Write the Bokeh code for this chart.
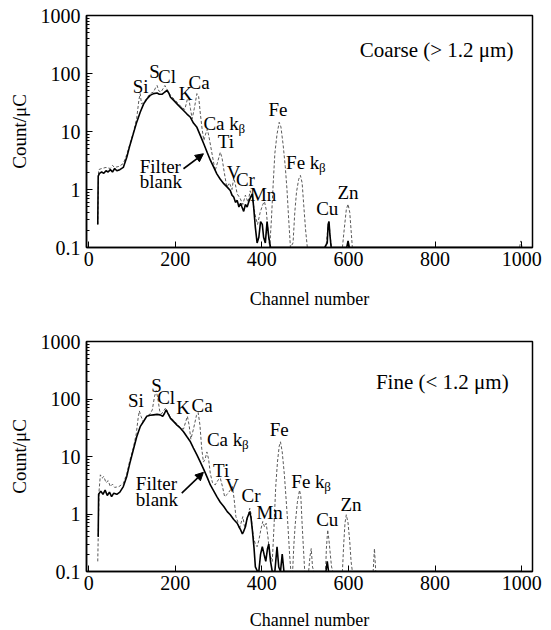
from bokeh.plotting import figure
from bokeh.layouts import column
from bokeh.models import (ColumnDataSource, Range1d, FixedTicker, LogTicker,
                          CustomJSTickFormatter, Arrow, NormalHead)
from bokeh.core.properties import value
from bokeh.embed import file_html
from bokeh.resources import INLINE

# ---------------- data: coarse (> 1.2 um) ----------------
coarse_ch = [21, 23, 30, 40, 50, 55, 60, 70, 80, 88, 95, 103, 111, 116, 119, 122, 128,
             135, 142, 150, 155, 158, 162, 167, 172, 176, 180, 189, 204, 215, 222, 228,
             231, 235, 239, 244, 250, 254, 258, 262, 266, 270, 274, 278, 284, 292, 298,
             304, 308, 313, 319, 325, 331, 335, 339, 343, 350, 356, 362, 368, 373, 378,
             385, 390, 396, 402, 406, 410, 414, 418, 422, 426, 430, 435, 440, 444, 449,
             454, 458, 462, 466, 472, 476, 480, 485, 489, 493, 497, 501, 505, 548, 552,
             555, 558, 561, 586, 590, 595, 599, 603, 606, 609, 995, 998, 1001]
coarse_sample = [0.25, 2.2, 2.3, 2.4, 2.3, 2.6, 2.4, 2.5, 2.8, 4.0, 6.0, 9.5, 17, 35, 45, 30,
                 32, 38, 45, 48, 58, 62, 50, 48, 55, 62, 55, 42, 32, 26, 24, 36, 38, 25,
                 16.5, 25, 45, 40, 20, 11, 7, 9, 11, 8, 4.5, 2.1, 3.0, 4.4, 3.5, 2.0, 1.1,
                 1.3, 1.0, 1.6, 1.2, 0.84, 0.7, 0.55, 0.8, 0.6, 0.95, 0.7, 0.35, 0.25, 0.4,
                 0.55, 0.62, 0.45, 0.2, 0.1, 0.3, 1.2, 4.2, 9.0, 14.4, 12, 6.0, 2.5, 1.0,
                 0.3, 0.1, 0.12, 0.4, 0.9, 1.5, 1.75, 1.3, 0.5, 0.2, 0.1, 0.1, 0.2, 0.28,
                 0.15, 0.1, 0.1, 0.2, 0.45, 0.56, 0.4, 0.2, 0.1, 0.1, 0.13, 0.1]
coarse_blank_ch = [21, 22, 25, 30, 35, 40, 45, 50, 55, 60, 65, 72, 80, 88, 95, 103, 111, 119,
                   127, 134, 142, 150, 158, 163, 170, 176, 181, 185, 189, 197, 204, 212,
                   219, 227, 235, 242, 250, 258, 266, 274, 281, 289, 296, 304, 312, 320,
                   327, 331, 335, 339, 343, 347, 351, 354, 358, 362, 366, 370, 374, 378,
                   381, 385, 389, 393, 397, 401, 404, 408, 412, 416, 420, 545, 551, 553,
                   555, 557, 560, 596, 599, 602, 1000]
coarse_blank = [0.25, 1.7, 1.9, 2.0, 1.9, 2.1, 2.0, 2.2, 2.0, 2.3, 2.1, 2.2, 2.4, 3.6, 5.7,
                9.1, 14.5, 21.5, 30, 36, 42, 45, 46, 44, 44, 48, 51, 46, 39, 34, 30, 26,
                23, 20, 17.6, 14, 11.8, 8.5, 6.1, 4.3, 3.2, 2.4, 1.86, 1.5, 1.26, 1.1,
                0.96, 0.8, 0.74, 0.6, 0.65, 0.5, 0.58, 0.5, 0.42, 0.55, 0.5, 0.62, 0.74,
                0.84, 0.5, 0.22, 0.12, 0.15, 0.28, 0.25, 0.15, 0.12, 0.28, 0.15, 0.1, 0.1,
                0.12, 0.25, 0.28, 0.17, 0.1, 0.1, 0.13, 0.1, 0.1]

# ---------------- data: fine (< 1.2 um) ----------------
fine_ch = [21, 24, 27, 31, 35, 40, 45, 50, 55, 60, 70, 80, 88, 95, 103, 110, 114, 117, 121,
           126, 134, 142, 147, 152, 156, 160, 164, 168, 173, 178, 182, 189, 204, 212, 219,
           224, 228, 232, 236, 242, 249, 253, 257, 261, 265, 269, 273, 277, 281, 286, 292,
           300, 304, 309, 314, 320, 327, 332, 336, 340, 344, 348, 352, 356, 360, 364, 369,
           372, 375, 378, 381, 385, 389, 393, 398, 402, 406, 410, 414, 418, 424, 428, 432,
           436, 440, 443, 447, 452, 456, 460, 464, 467, 471, 474, 477, 482, 487, 490, 493,
           496, 499, 508, 511, 514, 517, 520, 547, 549, 552, 555, 558, 561, 564, 586, 589,
           592, 595, 599, 603, 606, 609, 657, 660, 663, 1000]
fine_sample = [0.15, 2.5, 4.8, 4.2, 4.5, 3.5, 3.8, 3.0, 3.3, 2.9, 3.0, 3.4, 5.0, 8.5, 14,
               25, 45, 62, 50, 40, 50, 55, 65, 110, 140, 100, 62, 55, 62, 70, 60, 48, 37,
               32, 30, 40, 50, 35, 20, 30, 52, 58, 35, 14, 8, 9, 12, 9, 5, 3.5, 3.2, 4.0,
               4.2, 3.0, 2.0, 2.2, 2.6, 3.0, 1.8, 0.9, 0.75, 0.55, 0.7, 0.9, 0.6, 0.7, 1.0,
               1.26, 1.0, 0.55, 0.38, 0.3, 0.27, 0.35, 0.55, 0.74, 0.6, 0.69, 0.4, 0.2,
               0.15, 0.6, 3.0, 8.0, 15, 18, 12, 4.8, 1.8, 0.66, 0.2, 0.1, 0.1, 0.3, 0.66,
               1.6, 2.6, 2.0, 0.66, 0.25, 0.1, 0.1, 0.18, 0.25, 0.12, 0.1, 0.1, 0.25, 0.53,
               0.35, 0.2, 0.12, 0.1, 0.1, 0.3, 0.7, 0.97, 0.7, 0.33, 0.15, 0.1, 0.1, 0.25,
               0.1, 0.1]
fine_blank_ch = [22, 23, 28, 33, 38, 43, 48, 53, 58, 65, 72, 80, 88, 95, 103, 111, 119, 127,
                 134, 142, 150, 158, 165, 171, 175, 179, 183, 189, 197, 204, 212, 219, 227,
                 235, 242, 250, 258, 266, 274, 281, 289, 296, 304, 312, 320, 327, 335, 343,
                 347, 351, 355, 358, 362, 366, 370, 372, 375, 378, 382, 385, 390, 393, 397,
                 401, 405, 409, 413, 416, 420, 424, 430, 435, 439, 443, 447, 451, 548, 551,
                 554, 1000]
fine_blank = [0.4, 2.2, 2.5, 2.2, 2.6, 2.1, 2.4, 2.0, 2.3, 2.2, 2.4, 3.0, 4.5, 7.6, 13, 22,
              33, 41, 50, 52, 53, 54, 53, 50, 56, 65, 56, 46, 40, 35, 31, 27, 22, 18, 14,
              10.7, 8.0, 5.9, 4.3, 3.2, 2.5, 2.0, 1.6, 1.35, 1.1, 0.97, 0.8, 0.69, 0.6,
              0.53, 0.45, 0.5, 0.6, 0.85, 1.0, 1.1, 0.85, 0.53, 0.25, 0.12, 0.1, 0.1, 0.2,
              0.27, 0.2, 0.15, 0.25, 0.3, 0.15, 0.1, 0.1, 0.27, 0.12, 0.1, 0.2, 0.1, 0.1,
              0.15, 0.1, 0.1]

x_ticks = [0, 200, 400, 600, 800, 1000]

# element labels (text, channel, count) - centred
coarse_labels = ["Si", "S", "Cl", "K", "Ca", "Ti", "V", "Cr", "Mn", "Fe", "Cu", "Zn"]
coarse_lab_ch = [120, 152, 181, 224, 255, 317, 335, 362, 403, 437, 551, 599]
coarse_lab_val = [60, 110, 89, 46, 71, 6.6, 1.95, 1.49, 0.82, 24, 0.47, 0.9]
fine_labels = ["Si", "S", "Cl", "K", "Ca", "Ti", "V", "Cr", "Mn", "Fe", "Cu", "Zn"]
fine_lab_ch = [109, 157, 179, 218, 262, 306, 331, 375, 418, 440, 551, 606]
fine_lab_val = [94, 175, 106, 71, 77, 5.7, 3.1, 2.1, 1.06, 30, 0.8, 1.46]

SERIF = "Liberation Serif"


def make_panel(ch, sample, bch, blank, labels, lch, lval, kb, title, title_pos,
               filt, arrow, top, bottom, fh, standoff):
    p = figure(frame_width=446, frame_height=fh, x_range=Range1d(-5, 1025),
               y_range=Range1d(0.1, 1000), y_axis_type="log",
               output_backend="svg", toolbar_location=None,
               min_border_left=86, min_border_right=16,
               min_border_top=top, min_border_bottom=bottom)
    p.xgrid.visible = False
    p.ygrid.visible = False
    p.outline_line_color = "black"
    p.outline_line_width = 1.5
    p.background_fill_color = "white"
    p.border_fill_color = "white"

    p.line(ch, sample, line_color="#5a5a5a", line_width=1, line_dash="3 2")
    p.line(bch, blank, line_color="black", line_width=1.6)

    for ax in (p.xaxis[0], p.yaxis[0]):
        ax.axis_line_color = "black"
        ax.axis_line_width = 1.5
        ax.major_tick_in = 6
        ax.major_tick_out = 0
        ax.minor_tick_in = 3
        ax.minor_tick_out = 0
        ax.major_label_text_font = SERIF
        ax.major_label_text_font_size = "20px"
        ax.major_label_text_color = "black"
        ax.axis_label_text_font = SERIF
        ax.axis_label_text_font_size = "18px"
        ax.axis_label_text_font_style = "normal"
        ax.axis_label_text_color = "black"
        ax.major_tick_line_color = "black"
        ax.minor_tick_line_color = "black"
    p.xaxis.ticker = FixedTicker(ticks=x_ticks)
    p.xaxis.minor_tick_line_color = None
    p.xaxis.major_label_standoff = 4
    p.xaxis.axis_label = "Channel number"
    p.xaxis.axis_label_standoff = standoff
    p.yaxis.ticker = LogTicker(num_minor_ticks=10)
    p.yaxis.formatter = CustomJSTickFormatter(
        code="return String(Number(tick.toPrecision(6)));")
    p.yaxis.major_label_standoff = 6
    p.yaxis.axis_label = "Count/\u03bcC"
    p.yaxis.axis_label_text_font_size = "19px"
    p.yaxis.axis_label_standoff = 8

    src = ColumnDataSource(dict(x=lch, y=lval, t=labels))
    p.text(x="x", y="y", text="t", source=src, text_font=value(SERIF),
           text_font_size="19px", text_align="center", text_baseline="middle",
           text_color="black")

    # k-beta labels with subscript beta
    kb_src = ColumnDataSource(dict(x=[k[1] for k in kb], y=[k[2] for k in kb],
                                   t=[k[0] for k in kb], off=[k[3] for k in kb]))
    p.text(x="x", y="y", text="t", source=kb_src, text_font=value(SERIF),
           text_font_size="19px", text_align="left", text_baseline="middle",
           text_color="black")
    p.text(x="x", y="y", text=value("\u03b2"), source=kb_src, x_offset="off",
           y_offset=5, text_font=value(SERIF), text_font_size="13px",
           text_align="left", text_baseline="middle", text_color="black")

    p.text(x=[title_pos[0]], y=[title_pos[1]], text=[title], text_font=value(SERIF),
           text_font_size="21px", text_align="right", text_baseline="middle",
           text_color="black")
    p.text(x=[filt[0], filt[0]], y=[filt[1], filt[2]], text=["Filter", "blank"],
           text_font=value(SERIF), text_font_size="19px", text_align="left",
           text_baseline="middle", text_color="black")
    p.add_layout(Arrow(end=NormalHead(size=8, fill_color="black", line_color="black"),
                       x_start=arrow[0], y_start=arrow[1], x_end=arrow[2],
                       y_end=arrow[3], line_color="black", line_width=1.6))
    return p


p1 = make_panel(coarse_ch, coarse_sample, coarse_blank_ch, coarse_blank,
                coarse_labels, coarse_lab_ch, coarse_lab_val,
                [("Ca k", 265, 13.5, 35), ("Fe k", 456, 2.96, 33)],
                "Coarse (> 1.2 \u03bcm)", (981, 250),
                (118, 2.54, 1.40), (219, 2.28, 265, 4.13),
                top=15, bottom=63, fh=232, standoff=20)
p2 = make_panel(fine_ch, fine_sample, fine_blank_ch, fine_blank,
                fine_labels, fine_lab_ch, fine_lab_val,
                [("Ca k", 273, 20, 35), ("Fe k", 468, 3.7, 33)],
                "Fine (< 1.2 \u03bcm)", (970, 200),
                (109, 3.4, 1.79), (215, 2.3, 265, 5.3),
                top=30, bottom=60, fh=230, standoff=17)

layout = column(p1, p2, spacing=0)
open("out.html", "w").write(file_html(layout, INLINE))
